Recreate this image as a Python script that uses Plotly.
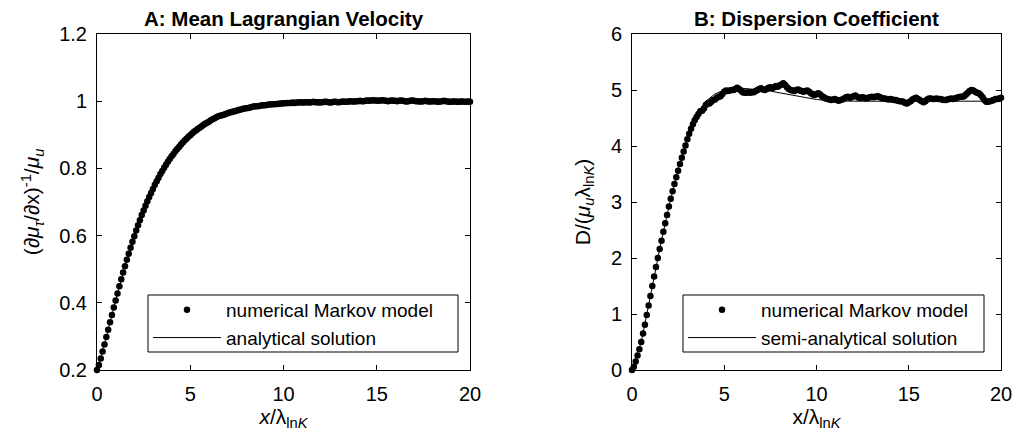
import plotly.graph_objects as go

# ---------------- data ----------------
x_num = [0.0, 0.1, 0.2, 0.3, 0.4, 0.5, 0.6, 0.7, 0.8, 0.9, 1.0,
         1.1, 1.2, 1.3, 1.4, 1.5, 1.6, 1.7, 1.8, 1.9, 2.0,
         2.1, 2.2, 2.3, 2.4, 2.5, 2.6, 2.7, 2.8, 2.9, 3.0,
         3.1, 3.2, 3.3, 3.4, 3.5, 3.6, 3.7, 3.8, 3.9, 4.0,
         4.1, 4.2, 4.3, 4.4, 4.5, 4.6, 4.7, 4.8, 4.9, 5.0,
         5.1, 5.2, 5.3, 5.4, 5.5, 5.6, 5.7, 5.8, 5.9, 6.0,
         6.1, 6.2, 6.3, 6.4, 6.5, 6.6, 6.7, 6.8, 6.9, 7.0,
         7.1, 7.2, 7.3, 7.4, 7.5, 7.6, 7.7, 7.8, 7.9, 8.0,
         8.1, 8.2, 8.3, 8.4, 8.5, 8.6, 8.7, 8.8, 8.9, 9.0,
         9.1, 9.2, 9.3, 9.4, 9.5, 9.6, 9.7, 9.8, 9.9, 10.0,
         10.1, 10.2, 10.3, 10.4, 10.5, 10.6, 10.7, 10.8, 10.9, 11.0,
         11.1, 11.2, 11.3, 11.4, 11.5, 11.6, 11.7, 11.8, 11.9, 12.0,
         12.1, 12.2, 12.3, 12.4, 12.5, 12.6, 12.7, 12.8, 12.9, 13.0,
         13.1, 13.2, 13.3, 13.4, 13.5, 13.6, 13.7, 13.8, 13.9, 14.0,
         14.1, 14.2, 14.3, 14.4, 14.5, 14.6, 14.7, 14.8, 14.9, 15.0,
         15.1, 15.2, 15.3, 15.4, 15.5, 15.6, 15.7, 15.8, 15.9, 16.0,
         16.1, 16.2, 16.3, 16.4, 16.5, 16.6, 16.7, 16.8, 16.9, 17.0,
         17.1, 17.2, 17.3, 17.4, 17.5, 17.6, 17.7, 17.8, 17.9, 18.0,
         18.1, 18.2, 18.3, 18.4, 18.5, 18.6, 18.7, 18.8, 18.9, 19.0,
         19.1, 19.2, 19.3, 19.4, 19.5, 19.6, 19.7, 19.8, 19.9, 20.0]

# Panel A: mean Lagrangian velocity, numerical Markov model
vel_num = [0.200, 0.215, 0.234, 0.255, 0.276, 0.298, 0.320, 0.342, 0.364, 0.386, 0.407,
           0.428, 0.449, 0.470, 0.490, 0.509, 0.528, 0.546, 0.564, 0.582, 0.598,
           0.615, 0.631, 0.646, 0.661, 0.675, 0.689, 0.702, 0.715, 0.727, 0.739,
           0.751, 0.762, 0.772, 0.783, 0.792, 0.802, 0.811, 0.820, 0.828, 0.836,
           0.843, 0.851, 0.858, 0.864, 0.871, 0.877, 0.883, 0.888, 0.894, 0.899,
           0.904, 0.909, 0.913, 0.917, 0.921, 0.925, 0.929, 0.933, 0.936, 0.939,
           0.943, 0.946, 0.949, 0.952, 0.955, 0.957, 0.958, 0.960, 0.962, 0.964,
           0.966, 0.967, 0.969, 0.970, 0.972, 0.974, 0.975, 0.977, 0.978, 0.979,
           0.980, 0.981, 0.983, 0.984, 0.985, 0.985, 0.986, 0.987, 0.988, 0.988,
           0.989, 0.990, 0.990, 0.991, 0.991, 0.992, 0.992, 0.993, 0.993, 0.994,
           0.994, 0.995, 0.995, 0.995, 0.996, 0.995, 0.996, 0.996, 0.997, 0.996,
           0.996, 0.997, 0.997, 0.996, 0.997, 0.998, 0.997, 0.997, 0.996, 0.997,
           0.997, 0.998, 0.998, 0.997, 0.996, 0.997, 0.998, 0.998, 0.997, 0.997,
           0.998, 0.999, 0.998, 0.998, 0.999, 1.000, 0.999, 0.999, 1.000, 1.000,
           1.001, 1.000, 1.000, 1.001, 1.002, 1.001, 1.002, 1.003, 1.002, 1.002,
           1.001, 1.002, 1.003, 1.002, 1.001, 1.000, 1.001, 1.002, 1.001, 1.001,
           1.000, 1.001, 1.002, 1.001, 1.000, 0.999, 1.000, 1.001, 1.002, 1.001,
           1.000, 1.000, 0.999, 0.999, 1.000, 1.001, 1.000, 0.999, 0.999, 1.000,
           1.000, 0.999, 0.998, 0.999, 1.000, 1.001, 1.000, 0.999, 0.998, 0.998,
           0.999, 0.999, 0.998, 0.998, 0.999, 0.999, 0.998, 0.998, 0.999, 0.998]

# Panel A: analytical solution
x_ana_a = [0.0, 0.5, 1.0, 1.5, 2.0, 2.5, 3.0, 3.5, 4.0, 4.5, 5.0, 5.5, 6.0, 6.5,
           7.0, 7.5, 8.0, 8.5, 9.0, 9.5, 10.0, 11.0, 12.0, 14.0, 16.0, 18.0, 20.0]
vel_ana = [0.200, 0.298, 0.407, 0.509, 0.598, 0.675, 0.739, 0.792, 0.836, 0.871, 0.899,
           0.921, 0.939, 0.953, 0.964, 0.972, 0.979, 0.984, 0.988, 0.991, 0.994,
           0.997, 0.998, 0.999, 1.000, 1.000, 1.000]

# Panel B: dispersion coefficient, numerical Markov model
disp_num = [0.00, 0.06, 0.15, 0.26, 0.37, 0.50, 0.65, 0.81, 0.98, 1.15, 1.32,
            1.50, 1.67, 1.84, 2.00, 2.16, 2.31, 2.47, 2.62, 2.77, 2.92,
            3.06, 3.19, 3.32, 3.44, 3.56, 3.68, 3.79, 3.90, 4.01, 4.12,
            4.22, 4.31, 4.39, 4.46, 4.52, 4.57, 4.62, 4.63, 4.67, 4.73,
            4.76, 4.76, 4.79, 4.82, 4.83, 4.86, 4.88, 4.89, 4.93, 4.97,
            4.99, 4.98, 4.99, 5.00, 5.00, 5.02, 5.04, 5.02, 4.99, 4.96,
            4.95, 4.95, 4.96, 4.95, 4.96, 4.96, 4.98, 5.00, 5.02, 5.03,
            5.01, 5.00, 5.02, 5.04, 5.05, 5.03, 5.05, 5.07, 5.06, 5.08,
            5.10, 5.12, 5.09, 5.05, 5.02, 5.00, 4.99, 4.98, 5.00, 5.01,
            4.99, 4.98, 4.97, 4.98, 4.99, 4.97, 4.94, 4.92, 4.91, 4.93,
            4.94, 4.92, 4.89, 4.87, 4.85, 4.84, 4.83, 4.82, 4.83, 4.84,
            4.82, 4.81, 4.82, 4.83, 4.85, 4.87, 4.88, 4.86, 4.87, 4.89,
            4.90, 4.88, 4.86, 4.86, 4.87, 4.86, 4.85, 4.86, 4.87, 4.88,
            4.87, 4.88, 4.89, 4.88, 4.86, 4.85, 4.85, 4.84, 4.83, 4.84,
            4.83, 4.82, 4.82, 4.81, 4.80, 4.80, 4.79, 4.77, 4.76, 4.78,
            4.80, 4.83, 4.85, 4.86, 4.84, 4.82, 4.80, 4.78, 4.80, 4.83,
            4.85, 4.85, 4.84, 4.84, 4.85, 4.84, 4.84, 4.83, 4.82, 4.82,
            4.83, 4.84, 4.85, 4.84, 4.85, 4.86, 4.87, 4.88, 4.88, 4.89,
            4.92, 4.95, 4.98, 5.00, 4.99, 4.97, 4.95, 4.94, 4.91, 4.87,
            4.82, 4.79, 4.79, 4.80, 4.81, 4.82, 4.84, 4.84, 4.85, 4.86]

# Panel B: semi-analytical solution
x_ana_b = [0.0, 0.5, 1.0, 1.5, 2.0, 2.5, 3.0, 3.5, 4.0, 4.5, 5.0, 5.5, 6.0, 6.5,
           7.0, 7.5, 8.0, 8.5, 9.0, 9.5, 10.0, 10.5, 11.0, 12.0, 14.0, 16.0, 18.0, 20.0]
disp_ana = [0.00, 0.50, 1.32, 2.16, 2.92, 3.58, 4.12, 4.55, 4.80, 4.93, 5.00, 5.03,
            5.03, 5.02, 5.00, 4.98, 4.95, 4.92, 4.89, 4.86, 4.83, 4.815, 4.805,
            4.80, 4.80, 4.80, 4.80, 4.80]

x_ticks = [0, 5, 10, 15, 20]
vel_ticks = [0.2, 0.4, 0.6, 0.8, 1.0, 1.2]
disp_ticks = [0, 1, 2, 3, 4, 5, 6]

# ---------------- figure ----------------
W, H = 1030, 446
FONT = "Liberation Sans, Arial, Helvetica, sans-serif"
FS_TICK = 20
FS_LEG = 19
FS_TITLE = 20.5
FS_AX = 21

fig = go.Figure()

fig.add_trace(go.Scatter(x=x_ana_a, y=vel_ana, mode="lines",
                         line=dict(color="black", width=1),
                         name="analytical solution", legend="legend", legendrank=2,
                         xaxis="x", yaxis="y", cliponaxis=False))
fig.add_trace(go.Scatter(x=x_num, y=vel_num, mode="markers",
                         marker=dict(color="black", size=6.5),
                         name="numerical Markov model", legend="legend", legendrank=1,
                         xaxis="x", yaxis="y", cliponaxis=False))
fig.add_trace(go.Scatter(x=x_ana_b, y=disp_ana, mode="lines",
                         line=dict(color="black", width=1),
                         name="semi-analytical solution", legend="legend2", legendrank=2,
                         xaxis="x2", yaxis="y2", cliponaxis=False))
fig.add_trace(go.Scatter(x=x_num, y=disp_num, mode="markers",
                         marker=dict(color="black", size=6.5),
                         name="numerical Markov model", legend="legend2", legendrank=1,
                         xaxis="x2", yaxis="y2", cliponaxis=False))

def px_x(p):
    return p / W

def px_y(p):
    return 1 - p / H

axis_common = dict(
    showline=True, linecolor="black", linewidth=1, mirror="ticks",
    ticks="inside", ticklen=5, tickcolor="black", tickwidth=1,
    showgrid=False, zeroline=False, automargin=False,
    tickfont=dict(family=FONT, size=FS_TICK, color="black"),
)

legend_common = dict(
    xanchor="left", yanchor="top", borderwidth=0, bgcolor="rgba(0,0,0,0)",
    font=dict(family=FONT, size=FS_LEG), itemwidth=68, tracegroupgap=0,
)

def legend_box(x0, x1, y0, y1):
    return dict(type="rect", xref="paper", yref="paper",
                x0=px_x(x0), x1=px_x(x1), y0=px_y(y1), y1=px_y(y0),
                line=dict(color="black", width=1), fillcolor="rgba(0,0,0,0)",
                layer="above")

fig.update_layout(
    width=W, height=H,
    margin=dict(l=0, r=0, t=0, b=0, autoexpand=False),
    paper_bgcolor="white", plot_bgcolor="white",
    font=dict(family=FONT, size=FS_TICK, color="black"),
    xaxis=dict(domain=[px_x(97), px_x(470)], range=[0, 20], tickvals=x_ticks,
               anchor="y", ticklabelstandoff=6,
               title=dict(text="<i>x</i>/λ<sub>ln<i>K</i></sub>", standoff=4,
                          font=dict(family=FONT, size=FS_AX)),
               **axis_common),
    yaxis=dict(domain=[px_y(370), px_y(34)], range=[0.2, 1.2], tickvals=vel_ticks,
               anchor="x", ticklabelstandoff=5,
               title=dict(text="(∂<i>μ</i><sub><i>τ</i></sub>/∂x)<sup>-1</sup>/<i>μ</i><sub><i>u</i></sub>",
                          standoff=13, font=dict(family=FONT, size=FS_AX)),
               **axis_common),
    xaxis2=dict(domain=[px_x(632), px_x(1001)], range=[0, 20], tickvals=x_ticks,
                anchor="y2", ticklabelstandoff=6,
                title=dict(text="x/λ<sub>ln<i>K</i></sub>", standoff=4,
                           font=dict(family=FONT, size=FS_AX)),
                **axis_common),
    yaxis2=dict(domain=[px_y(370), px_y(34)], range=[0, 6], tickvals=disp_ticks,
                anchor="x2", ticklabelstandoff=5,
                title=dict(text="D/(<i>μ</i><sub><i>u</i></sub>λ<sub>ln<i>K</i></sub>)",
                           standoff=14, font=dict(family=FONT, size=FS_AX)),
                **axis_common),
    legend=dict(x=px_x(148), y=px_y(291), **legend_common),
    legend2=dict(x=px_x(683), y=px_y(291), **legend_common),
    showlegend=True,
    shapes=[legend_box(148, 458, 295, 352), legend_box(683, 984, 295, 352)],
    annotations=[
        dict(text="<b>A: Mean Lagrangian Velocity</b>", x=px_x(283.5), y=px_y(18),
             xref="paper", yref="paper", xanchor="center", yanchor="middle",
             showarrow=False, font=dict(family=FONT, size=FS_TITLE, color="black")),
        dict(text="<b>B: Dispersion Coefficient</b>", x=px_x(816.5), y=px_y(18),
             xref="paper", yref="paper", xanchor="center", yanchor="middle",
             showarrow=False, font=dict(family=FONT, size=FS_TITLE, color="black")),
    ],
)

# remove the default page margin so the figure sits at the window's top-left corner
fig.write_html("out.html", config={"displayModeBar": False},
               post_script="document.body.style.margin='0';")
